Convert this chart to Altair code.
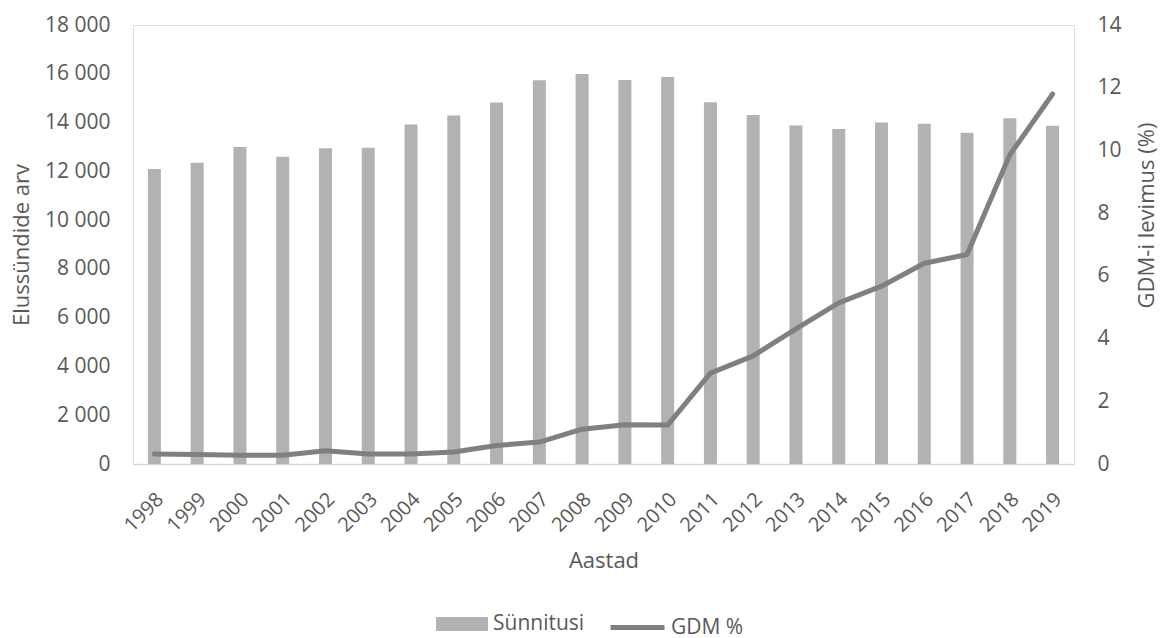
import altair as alt
import pandas as pd

years = [str(y) for y in range(1998, 2020)]
births = [12100, 12350, 13000, 12600, 12950, 12970, 13920, 14290, 14820, 15730,
          15990, 15740, 15870, 14830, 14310, 13880, 13740, 14000, 13950, 13580,
          14180, 13870]
gdm = [0.32, 0.30, 0.28, 0.28, 0.42, 0.32, 0.32, 0.38, 0.59, 0.70,
       1.11, 1.25, 1.24, 2.90, 3.45, 4.31, 5.14, 5.67, 6.40, 6.68,
       9.86, 11.80]
left_ticks = list(range(0, 18001, 2000))
right_ticks = list(range(0, 15, 2))

df = pd.DataFrame({
    "Aasta": years,
    "Sünnitusi": births,
    "GDM": gdm,
    "s1": ["Sünnitusi"] * len(years),
    "s2": ["GDM %"] * len(years),
})

FONT = "Open Sans"
TXT = "#595959"
W, H = 941, 439

x_enc = alt.X(
    "Aasta:O",
    sort=years,
    scale=alt.Scale(paddingInner=0.696, paddingOuter=0.348),
    axis=alt.Axis(
        title="Aastad",
        labelAngle=315,
        labelAlign="right",
        labelBaseline="middle",
        labelPadding=32,
        labelOffset=6,
        labelFontSize=20,
        labelColor=TXT,
        labelFont=FONT,
        ticks=False,
        domainColor="#D9D9D9",
        domainWidth=1.5,
        titleFontSize=22,
        titleFont=FONT,
        titleColor=TXT,
        titleFontWeight="normal",
        titleX=W / 2,
        titleY=96,
        titleAlign="center",
        titleBaseline="middle",
    ),
)

bars = alt.Chart(df).mark_bar(size=13).encode(
    x=x_enc,
    y=alt.Y(
        "Sünnitusi:Q",
        scale=alt.Scale(domain=[0, 18000], nice=False),
        axis=alt.Axis(
            title="Elussündide arv",
            values=left_ticks,
            labelExpr="replace(format(datum.value, ','), ',', ' ')",
            orient="left",
            domain=False,
            ticks=False,
            grid=False,
            labelPadding=23,
            labelFontSize=21,
            labelColor=TXT,
            labelFont=FONT,
            titleFontSize=22,
            titleFont=FONT,
            titleColor=TXT,
            titleFontWeight="normal",
            titleAngle=270,
            titleX=-112,
            titleY=H / 2,
            titleAlign="center",
            titleBaseline="middle",
        ),
    ),
    fill=alt.Fill(
        "s1:N",
        scale=alt.Scale(range=["#B2B2B2"]),
        legend=alt.Legend(
            title=None,
            orient="none",
            legendX=303,
            legendY=573,
            symbolType="M-1,-0.27L1,-0.27L1,0.27L-1,0.27Z",
            symbolSize=2704,
            symbolStrokeWidth=0,
            labelFontSize=21,
            labelFont=FONT,
            labelColor=TXT,
            labelOffset=5,
            padding=0,
        ),
    ),
)

line = alt.Chart(df).mark_line(strokeWidth=5, strokeCap="round", strokeJoin="round").encode(
    x=alt.X("Aasta:O", sort=years),
    y=alt.Y(
        "GDM:Q",
        scale=alt.Scale(domain=[0, 14], nice=False),
        axis=alt.Axis(
            title="GDM-i levimus (%)",
            values=right_ticks,
            orient="right",
            domain=False,
            ticks=False,
            grid=False,
            labelPadding=23,
            labelFontSize=21,
            labelColor=TXT,
            labelFont=FONT,
            titleFontSize=22,
            titleFont=FONT,
            titleColor=TXT,
            titleFontWeight="normal",
            titleAngle=270,
            titleX=72,
            titleY=190,
            titleAlign="center",
            titleBaseline="middle",
        ),
    ),
    stroke=alt.Stroke(
        "s2:N",
        scale=alt.Scale(range=["#808080"]),
        legend=alt.Legend(
            title=None,
            orient="none",
            legendX=475,
            legendY=573,
            symbolType="stroke",
            symbolSize=2916,
            symbolStrokeWidth=5,
            labelFontSize=21,
            labelFont=FONT,
            labelColor=TXT,
            labelOffset=4,
            padding=0,
        ),
    ),
)

chart = (
    alt.layer(bars, line)
    .resolve_scale(y="independent", fill="independent", stroke="independent")
    .properties(
        width=W,
        height=H,
        autosize=alt.AutoSizeParams(type="none"),
        padding={"left": 133, "top": 25, "right": 86, "bottom": 174},
    )
    .configure_view(stroke=None)
    .configure(background="white")
)

chart.save("out.html", embed_options={"renderer": "svg", "actions": False})
